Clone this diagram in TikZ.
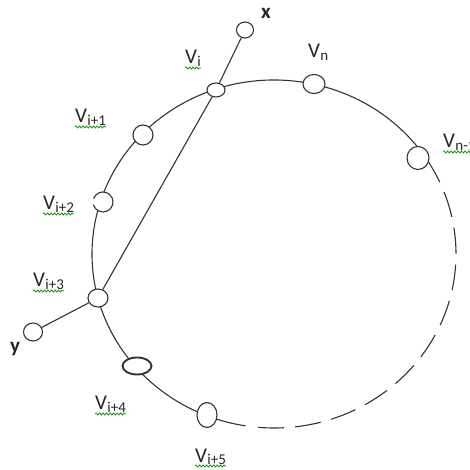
\documentclass[tikz,border=0pt]{standalone}
\usepackage{fontspec}
\setmainfont{Carlito}
\usetikzlibrary{shapes.geometric,decorations.pathmorphing}
\newcommand\vsub[1]{V\kern0.3pt\raisebox{-2.5pt}{\fontsize{15}{15}\selectfont #1}}
\begin{document}
\begin{tikzpicture}[x=1pt,y=1pt,
  ln/.style={line width=1.1pt, draw=black!80},
  vtx/.style n args={2}{ellipse, draw=black!80, line width=1.1pt, fill=white,
    inner sep=0pt, minimum width=#1pt, minimum height=#2pt},
  lab/.style={anchor=base west, inner sep=0pt, text=black!85,
    font=\fontsize{21}{21}\selectfont},
  xy/.style={inner sep=0pt, text=black!85, font=\bfseries\fontsize{21}{21}\selectfont},
  squig/.style={draw=green!55!black, line width=0.7pt, decorate,
    decoration={snake, amplitude=1.1pt, segment length=3.5pt}}]
\useasboundingbox (0,0) rectangle (469,470);

% the cycle: solid part and dashed part
\draw[ln] (274,216) ++(33.8:182 and 174)
  arc[start angle=33.8, end angle=261, x radius=182, y radius=174];
\draw[ln, dash pattern=on 26pt off 11pt] (274,216) ++(265:182 and 174)
  arc[start angle=265, end angle=393.8, x radius=182, y radius=174];

% vertices
\node[vtx={18}{14}] (vi)  at (216,380) {};
\node[vtx={22}{19}] (vn)  at (314,386) {};
\node[vtx={22}{23}] (vn1) at (418,312) {};
\node[vtx={20}{20}] (vi1) at (143,335) {};
\node[vtx={20}{20}, draw=none] (vi2) at (103,268) {};
\draw[ln] ([shift={(160:10)}]vi2.center) arc[start angle=160, end angle=-165, radius=10];
\node[vtx={20}{18}] (vi3) at (98,172) {};
\node[vtx={29}{17}, line width=1.9pt] (vi4) at (137,104) {};
\node[vtx={20}{25}] (vi5) at (207,55) {};
\node[vtx={17}{16}] (x)   at (245,440) {};
\node[vtx={19}{18}] (y)   at (33,138) {};

% connectors
\draw[ln] (x) -- (vi);
\draw[ln] (vi) -- (vi3);
\draw[ln] (y) -- (vi3);

% labels
\node[xy] (lx) at (266,457) {x};
\node[xy] (ly) at (15,121) {y};
\node[lab] (lvi)  at (185,406) {\vsub{i}};
\node[lab] (lvn)  at (308,412) {\vsub{n}};
\node[lab] (lvn1) at (443,322) {\vsub{n-1}};
\node[lab] (lvi1) at (75,347)  {\vsub{i+1}};
\node[lab] (lvi2) at (43,260)  {\vsub{i+2}};
\node[lab] (lvi3) at (33,183)  {\vsub{i+3}};
\node[lab] (lvi4) at (95,60)   {\vsub{i+4}};
\node[lab] (lvi5) at (195,8)   {\vsub{i+5}};

% spell-check underlines
\foreach \l in {lvi,lvn1,lvi1,lvi2,lvi3,lvi4,lvi5}
  \draw[squig] ([yshift=-4pt]\l.base west) -- ([yshift=-4pt]\l.base east);
\end{tikzpicture}
\end{document}
